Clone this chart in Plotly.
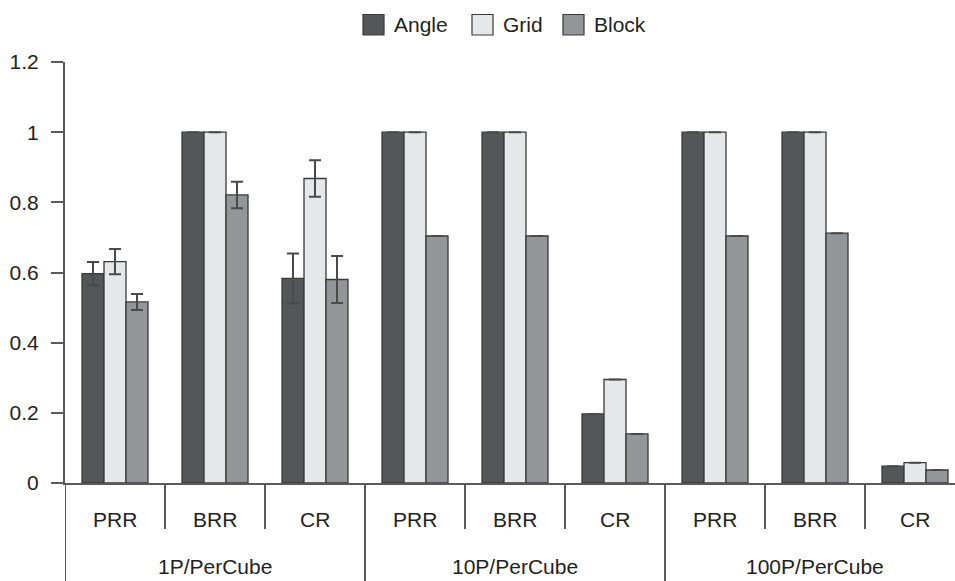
import plotly.graph_objects as go

# Grouped categories: particle setting / metric
groups = ["1P/PerCube", "10P/PerCube", "100P/PerCube"]
metrics = ["PRR", "BRR", "CR"]

angle = [0.597, 1.0, 0.583, 1.0, 1.0, 0.197, 1.0, 1.0, 0.048]
grid = [0.631, 1.0, 0.868, 1.0, 1.0, 0.295, 1.0, 1.0, 0.058]
block = [0.516, 0.821, 0.580, 0.704, 0.704, 0.140, 0.704, 0.712, 0.037]

# spread shown only where it was measured (None = no error bar)
angle_err = [0.033, None, 0.071, None, None, None, None, None, None]
grid_err = [0.036, None, 0.052, None, None, None, None, None, None]
block_err = [0.023, 0.038, 0.067, None, None, None, None, None, None]

y_ticks = [0, 0.2, 0.4, 0.6, 0.8, 1.0, 1.2]
y_tick_text = ["0", "0.2", "0.4", "0.6", "0.8", "1", "1.2"]

FONT = "Liberation Sans, Arial, Helvetica"
TEXT = "#231f20"
AXIS = "#5a5a5a"
EDGE = "#3a3a3a"

series = [
    ("Angle", angle, angle_err, "#555658"),
    ("Grid", grid, grid_err, "#e6e7e8"),
    ("Block", block, block_err, "#939598"),
]

# one slot per (group, metric) pair on a numeric axis
labels = [(g, m) for g in groups for m in metrics]
xpos = list(range(len(labels)))

fig = go.Figure()
for name, vals, errs, color in series:
    fig.add_trace(go.Bar(
        name=name,
        x=xpos,
        y=vals,
        marker=dict(color=color, line=dict(color=EDGE, width=1.3)),
        error_y=dict(
            type="data",
            array=errs,
            visible=True,
            color="#4a4a4a",
            thickness=2,
            width=6,
        ),
        showlegend=False,
    ))

# plot-area geometry used to place axis decorations in paper units
L, R, T, B = 65, 0, 62, 98
W, H = 955, 581
pw, ph = W - L - R, H - T - B


def px_x(px):
    return (px - L) / pw


def px_y(py):
    return (H - B - py) / ph


# category labels under the axis
for i, (g, m) in enumerate(labels):
    fig.add_annotation(x=i, y=px_y(519.5), xref="x", yref="paper", text=m,
                       showarrow=False, yanchor="middle",
                       font=dict(family=FONT, size=21, color=TEXT))
n = len(metrics)
for j, g in enumerate(groups):
    fig.add_annotation(x=j * n + (n - 1) / 2, y=px_y(580), xref="x", yref="paper", text=g,
                       showarrow=False, yanchor="bottom",
                       font=dict(family=FONT, size=21, color=TEXT))

# dividers: short between metrics, full height between groups and at the left edge
for k in range(len(labels)):
    xb = k - 0.5
    low = px_y(H + 5) if k % n == 0 else px_y(529)
    fig.add_shape(type="line", xref="x", yref="paper", x0=xb, x1=xb, y0=0, y1=low,
                  line=dict(color=AXIS, width=2))

# legend drawn as swatches with labels
legend_items = [("Angle", "#555658", 363), ("Grid", "#e6e7e8", 472), ("Block", "#939598", 563)]
for name, color, x0 in legend_items:
    fig.add_shape(type="rect", xref="paper", yref="paper",
                  x0=px_x(x0), x1=px_x(x0 + 21), y0=px_y(14.5), y1=px_y(35),
                  fillcolor=color, line=dict(color=EDGE, width=1.2))
    fig.add_annotation(x=px_x(x0 + 29), y=px_y(25), xref="paper", yref="paper", text=name,
                       showarrow=False, xanchor="left", yanchor="middle",
                       font=dict(family=FONT, size=21, color=TEXT))

fig.update_layout(
    width=W,
    height=H,
    margin=dict(l=L, r=R, t=T, b=B),
    plot_bgcolor="white",
    paper_bgcolor="white",
    barmode="group",
    bargap=0.34,
    bargroupgap=0,
    font=dict(family=FONT, size=21, color=TEXT),
    showlegend=False,
)

fig.update_xaxes(
    range=[-0.5, 8.4],
    showline=True,
    linecolor=AXIS,
    linewidth=2,
    showticklabels=False,
    ticks="",
    showgrid=False,
    zeroline=False,
)

fig.update_yaxes(
    range=[0, 1.2],
    tickvals=y_ticks,
    ticktext=y_tick_text,
    ticks="outside",
    ticklen=12,
    tickwidth=2,
    tickcolor=AXIS,
    ticklabelstandoff=8,
    showline=True,
    linecolor=AXIS,
    linewidth=2,
    showgrid=False,
    zeroline=False,
    tickfont=dict(family=FONT, size=21, color=TEXT),
)

fig.write_html("out.html")
